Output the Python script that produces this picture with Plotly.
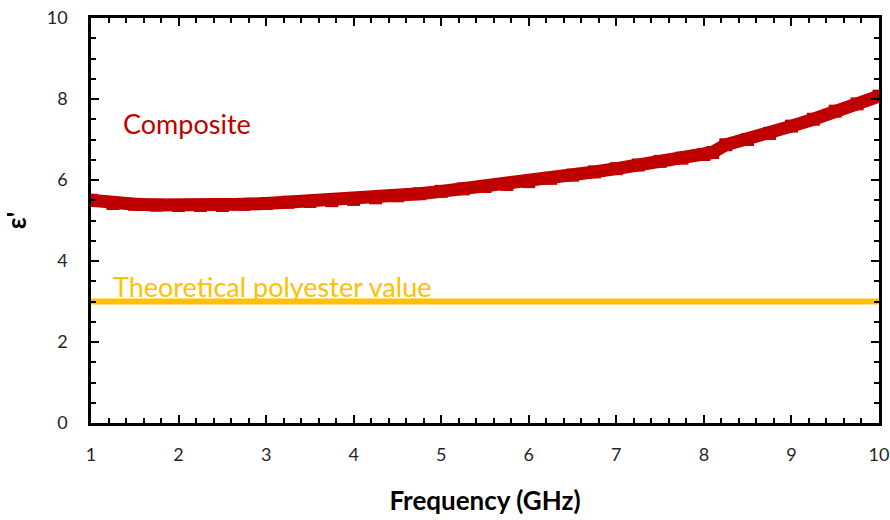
import plotly.graph_objects as go

# Measured real permittivity of the composite vs frequency
freq_ghz = [1.0, 1.25, 1.5, 1.75, 2.0, 2.25, 2.5, 2.75, 3.0, 3.25, 3.5, 3.75,
            4.0, 4.25, 4.5, 4.75, 5.0, 5.25, 5.5, 5.75, 6.0, 6.25, 6.5, 6.75,
            7.0, 7.25, 7.5, 7.75, 8.0, 8.1, 8.25, 8.5, 8.75, 9.0, 9.25, 9.5,
            9.75, 10.0]
eps_composite = [5.50, 5.42, 5.40, 5.38, 5.37, 5.37, 5.37, 5.40, 5.42, 5.45,
                 5.47, 5.49, 5.52, 5.56, 5.61, 5.66, 5.72, 5.78, 5.84, 5.89,
                 5.96, 6.04, 6.12, 6.20, 6.28, 6.37, 6.46, 6.54, 6.63, 6.68,
                 6.87, 7.00, 7.15, 7.33, 7.50, 7.70, 7.88, 8.07]

# Theoretical polyester permittivity (constant)
poly_freq = [1.0, 10.0]
poly_eps = [3.0, 3.0]

x_ticks = [1, 2, 3, 4, 5, 6, 7, 8, 9, 10]
y_ticks = [0, 2, 4, 6, 8, 10]

RED = "#C00000"
GOLD = "#FFC000"
FONT = "Lato, Open Sans, sans-serif"

fig = go.Figure()
fig.add_trace(go.Scatter(
    x=poly_freq, y=poly_eps, mode="lines",
    line=dict(color=GOLD, width=6), hoverinfo="skip", showlegend=False,
))
fig.add_trace(go.Scatter(
    x=freq_ghz, y=eps_composite, mode="lines+markers",
    line=dict(color=RED, width=13),
    marker=dict(symbol="square", size=13, color=RED),
    showlegend=False,
))

fig.add_annotation(x=1.34, y=7.4, xref="x", yref="y", text="Composite",
                   showarrow=False, xanchor="left", yanchor="middle",
                   font=dict(family=FONT, size=27, color=RED))
fig.add_annotation(x=1.23, y=3.38, xref="x", yref="y",
                   text="Theoretical polyester value",
                   showarrow=False, xanchor="left", yanchor="middle",
                   font=dict(family=FONT, size=27, color=GOLD))

axis_common = dict(
    showline=True, linecolor="black", linewidth=2.5, mirror="allticks",
    ticks="inside", ticklen=8, tickwidth=2, tickcolor="black",
    showgrid=False, zeroline=False, automargin=False,
    tickfont=dict(family=FONT, size=18, color="#262626"),
)

fig.update_xaxes(
    range=[1, 10], tickmode="array", tickvals=x_ticks,
    ticklabelstandoff=14,
    minor=dict(ticks="inside", ticklen=5, tickwidth=1.5, tickcolor="black",
               dtick=0.2, showgrid=False),
    title=dict(text="<b>Frequency (GHz)</b>", standoff=28,
               font=dict(family=FONT, size=26, color="black")),
    **axis_common,
)
fig.update_yaxes(
    range=[0, 10], tickmode="array", tickvals=y_ticks,
    ticklabelstandoff=17,
    minor=dict(ticks="inside", ticklen=5, tickwidth=1.5, tickcolor="black",
               dtick=0.5, showgrid=False),
    title=dict(text="<b>ε'</b>", standoff=20,
               font=dict(family=FONT, size=26, color="black")),
    **axis_common,
)

fig.update_layout(
    width=890, height=520,
    margin=dict(l=91, r=11, t=18, b=97),
    plot_bgcolor="white", paper_bgcolor="white",
)

fig.write_html("out.html")
